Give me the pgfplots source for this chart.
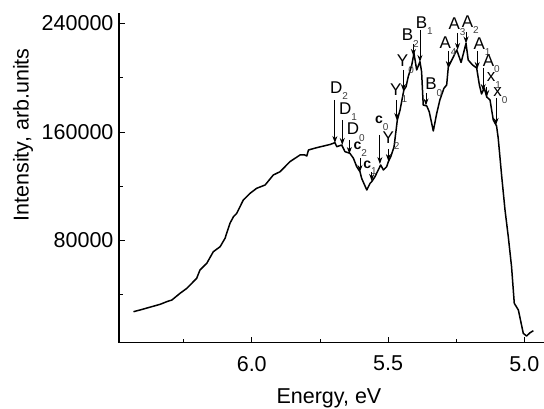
\documentclass[border=0pt]{standalone}
\usepackage{fontspec}
\setmainfont{Liberation Sans}
\usepackage{pgfplots}
\pgfplotsset{compat=1.18}
\usetikzlibrary{arrows.meta}
\newcommand{\lab}[2]{#1\raisebox{-6.5pt}{\fontsize{10}{10}\selectfont\color{black!75}#2}}
\newcommand{\cc}{{\fontsize{14}{14}\selectfont\bfseries c}}
\begin{document}
\begin{tikzpicture}
\begin{axis}[
  scale only axis, width=425pt, height=329.5pt,
  x dir=reverse, xmin=4.928, xmax=6.487, ymin=4650, ymax=247800,
  axis x line=bottom, axis y line=left,
  axis line style={-, line width=1.5pt},
  tick align=inside, major tick length=6pt, minor tick length=4pt,
  tick style={line width=0.8pt, black},
  xtick={5.0,5.5,6.0}, minor xtick={5.25,5.75,6.25},
  ytick={80000,160000,240000}, minor ytick={40000,120000,200000},
  scaled y ticks=false, scaled x ticks=false,
  /pgf/number format/assume math mode=true,
  /pgf/number format/1000 sep={},
  xticklabel style={/pgf/number format/fixed, /pgf/number format/fixed zerofill, /pgf/number format/precision=1, yshift=-10pt},
  yticklabel style={/pgf/number format/fixed, /pgf/number format/precision=0, xshift=-2pt},
  tick label style={font=\fontsize{21.5}{21.5}\selectfont},
  label style={font=\fontsize{21.5}{21.5}\selectfont},
  xlabel={Energy, eV}, ylabel={Intensity, arb.units},
  xlabel style={at={(axis description cs:0.494,-0.168)}, anchor=center},
  ylabel style={at={(axis description cs:-0.2259,0.63)}, anchor=center},
  clip=false,
]
\addplot[black, line width=1.5pt, mark=none, line join=round] table {
x y
6.434 27380
6.410 28630
6.336 32840
6.312 34760
6.293 36010
6.263 40960
6.238 44650
6.202 52030
6.190 58150
6.165 63100
6.141 71660
6.116 75350
6.098 81550
6.080 92620
6.067 97490
6.055 100000
6.031 109810
6.006 114760
5.982 118450
5.951 120880
5.921 128260
5.896 130700
5.860 138080
5.823 143020
5.805 143020
5.798 142290
5.792 146710
5.762 148410
5.713 150770
5.695 152100
5.688 149150
5.670 150400
5.658 145460
5.640 144280
5.627 140590
5.615 134390
5.603 130700
5.597 125830
5.578 117190
5.566 122140
5.560 123320
5.548 127010
5.536 131950
5.527 135640
5.517 131950
5.505 134390
5.499 138080
5.490 141770
5.478 149150
5.466 168850
5.456 176230
5.442 191000
5.434 193430
5.426 200810
5.413 209440
5.405 218080
5.395 205750
5.383 211880
5.377 204500
5.371 179920
5.358 179190
5.349 174980
5.334 160740
5.322 173280
5.310 183610
5.295 192250
5.285 194680
5.279 207970
5.267 212770
5.248 220510
5.232 211290
5.214 225460
5.206 213130
5.190 209440
5.175 207230
5.165 194680
5.157 188040
5.147 192470
5.138 185830
5.126 183610
5.114 168850
5.102 164430
5.096 155570
5.083 127010
5.071 102430
5.059 82730
5.047 60590
5.037 33580
5.022 28630
5.004 11440
4.992 9450
4.979 11880
4.967 13360
};
\coordinate (sw) at (rel axis cs:0,0);
\coordinate (ne) at (rel axis cs:1,1);
% arrows
\tikzset{ann/.style={-{Stealth[length=7pt,width=5pt]}, line width=0.9pt, black}}
\draw[ann] (5.695,183610) -- (5.695,151880);
\draw[ann] (5.668,168850) -- (5.668,150400);
\draw[ann] (5.642,154090) -- (5.642,143760);
\draw[ann] (5.603,140810) -- (5.603,130480);
\draw[ann] (5.560,130480) -- (5.560,123840);
\draw[ann] (5.530,157780) -- (5.530,136380);
\draw[ann] (5.499,147450) -- (5.499,138600);
\draw[ann] (5.468,183610) -- (5.468,168850);
\draw[ann] (5.444,205750) -- (5.444,190260);
\draw[ann] (5.407,224940) -- (5.407,216090);
\draw[ann] (5.383,235270) -- (5.383,211660);
\draw[ann] (5.361,188780) -- (5.361,179560);
\draw[ann] (5.279,219780) -- (5.279,207230);
\draw[ann] (5.245,233060) -- (5.245,220510);
\draw[ann] (5.214,233800) -- (5.214,225310);
\draw[ann] (5.173,219780) -- (5.173,206490);
\draw[ann] (5.151,207230) -- (5.151,190260);
\draw[ann] (5.138,193210) -- (5.138,185830);
\draw[ann] (5.104,185090) -- (5.104,165160);
% labels
\tikzset{lbl/.style={anchor=base west, inner sep=0pt, font=\fontsize{17}{17}\selectfont}}
\node[lbl] at (5.713,188560) {\lab{D}{2}};
\node[lbl] at (5.680,173060) {\lab{D}{1}};
\node[lbl] at (5.652,157780) {\lab{D}{0}};
\node[lbl] at (5.627,146710) {\lab{\cc}{2}};
\node[lbl] at (5.591,133210) {\lab{\cc}{1}};
\node[lbl] at (5.548,165900) {\lab{\cc}{0}};
\node[lbl] at (5.521,151660) {\lab{Y}{2}};
\node[lbl] at (5.493,186790) {\lab{Y}{1}};
\node[lbl] at (5.468,208190) {\lab{Y}{0}};
\node[lbl] at (5.450,227380) {\lab{B}{2}};
\node[lbl] at (5.399,236530) {\lab{B}{1}};
\node[lbl] at (5.364,191000) {\lab{B}{0}};
\node[lbl] at (5.312,221250) {\lab{A}{4}};
\node[lbl] at (5.279,235790) {\lab{A}{3}};
\node[lbl] at (5.230,237270) {\lab{A}{2}};
\node[lbl] at (5.187,221030) {\lab{A}{1}};
\node[lbl] at (5.153,208690) {\lab{A}{0}};
\node[lbl] at (5.138,197120) {\lab{x}{1}};
\node[lbl] at (5.114,186050) {\lab{x}{0}};
\end{axis}
\pgfresetboundingbox
\path ([xshift=-119pt,yshift=-65.5pt]sw) rectangle ([yshift=13pt]ne);
\end{tikzpicture}
\end{document}
